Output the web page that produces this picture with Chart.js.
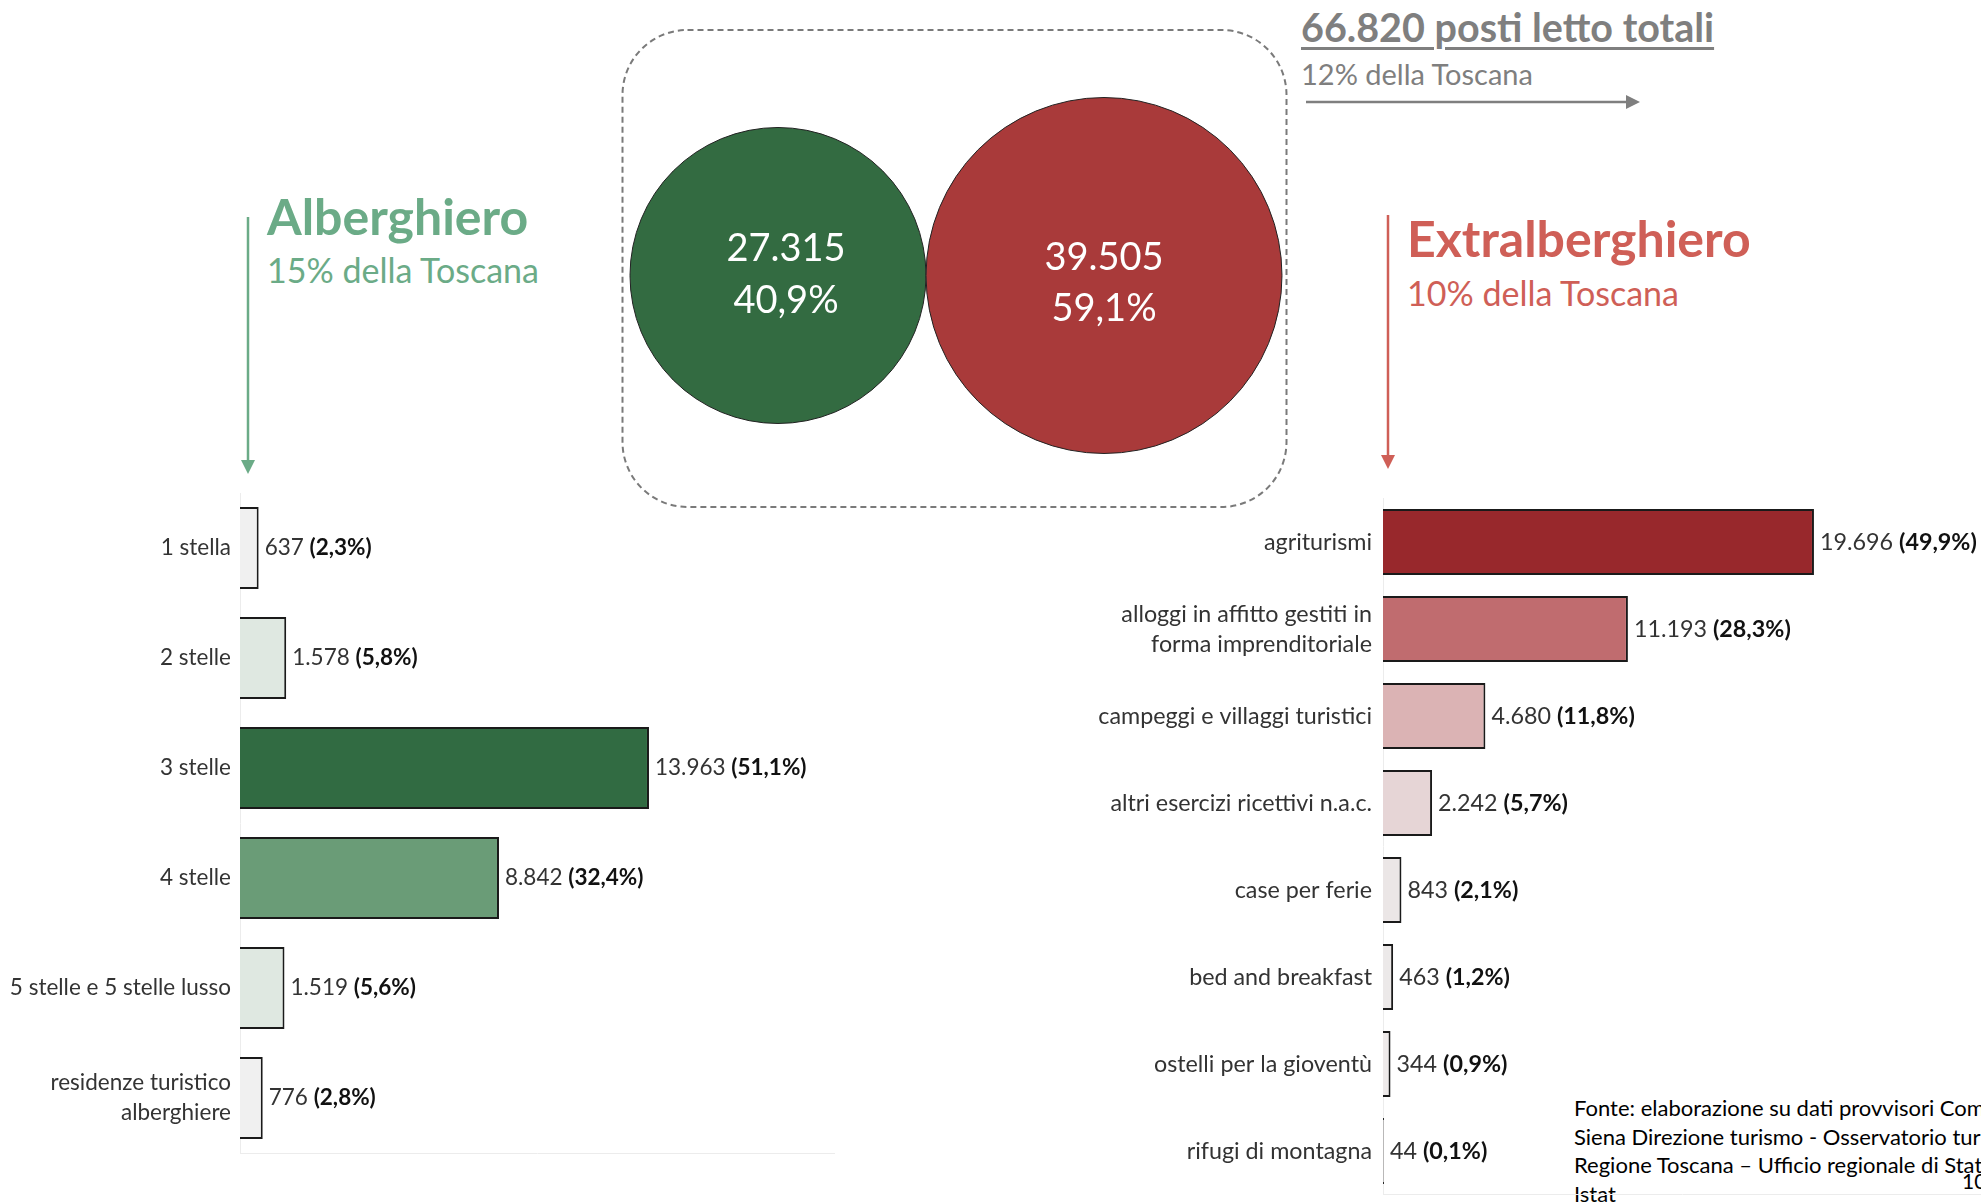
<!DOCTYPE html>
<html><head><meta charset="utf-8">
<script src="https://cdn.jsdelivr.net/npm/chart.js@4.4.0/dist/chart.umd.min.js"></script>
<style>
html,body{margin:0;padding:0;background:#fff;}
body{width:1981px;height:1204px;overflow:hidden;position:relative;font-family:Lato,'Open Sans',sans-serif;}
.t{position:absolute;white-space:nowrap;line-height:1;}
canvas{position:absolute;}
svg{position:absolute;left:0;top:0;}
</style></head><body>
<svg width="1981" height="1204">
 <rect x="622.5" y="30" width="664" height="477" rx="65" ry="65" fill="none" stroke="#7a7a7a" stroke-width="2" stroke-dasharray="6 4"/>
 <line x1="1306" y1="102" x2="1628" y2="102" stroke="#7f7f7f" stroke-width="2.5"/>
 <polygon points="1626,95 1640,102 1626,109" fill="#7f7f7f"/>
 <line x1="248" y1="217" x2="248" y2="462" stroke="#6bab87" stroke-width="2.5"/>
 <polygon points="241,460 255,460 248,474" fill="#6bab87"/>
 <line x1="1388" y1="215" x2="1388" y2="457" stroke="#cf5f57" stroke-width="2.5"/>
 <polygon points="1381,455 1395,455 1388,469" fill="#cf5f57"/>
</svg>

<div class="t" style="left:1301px;top:6.5px;font-size:39.5px;font-weight:700;color:#7f7f7f;text-decoration:underline;text-decoration-thickness:3px;text-underline-offset:5px;">66.820 posti letto totali</div>
<div class="t" style="left:1301px;top:59px;font-size:29px;color:#7f7f7f;">12% della Toscana</div>
<div class="t" style="left:267px;top:191px;font-size:50px;font-weight:700;color:#6bab87;">Alberghiero</div>
<div class="t" style="left:267px;top:253px;font-size:34px;color:#6bab87;">15% della Toscana</div>
<div class="t" style="left:1407px;top:213px;font-size:50px;font-weight:700;color:#cf5f57;">Extralberghiero</div>
<div class="t" style="left:1407px;top:276px;font-size:34px;color:#cf5f57;">10% della Toscana</div>
<div class="t" style="left:1962px;top:1170px;font-size:21px;color:#000;">10</div>
<div class="t" style="left:1574px;top:1094px;font-size:22px;line-height:28.5px;color:#000;">Fonte: elaborazione su dati provvisori Comune di<br>Siena Direzione turismo - Osservatorio turistico<br>Regione Toscana – Ufficio regionale di Statistica<br>Istat</div>

<canvas id="bub" width="1010" height="431" style="left:436px;top:60px;"></canvas>
<canvas id="left" width="860" height="764" style="left:0px;top:440px;"></canvas>
<canvas id="right" width="981" height="764" style="left:1000px;top:440px;"></canvas>

<script>
// ---- data ----
const groupNames = ['Alberghiero', 'Extralberghiero'];
const groupTotals = [27315, 39505];
const groupShares = ['40,9%', '59,1%'];

const hotelCategories = ['1 stella', '2 stelle', '3 stelle', '4 stelle', '5 stelle e 5 stelle lusso', ['residenze turistico', 'alberghiere']];
const hotelBeds = [637, 1578, 13963, 8842, 1519, 776];
const hotelShares = ['2,3%', '5,8%', '51,1%', '32,4%', '5,6%', '2,8%'];

const extraCategories = ['agriturismi', ['alloggi in affitto gestiti in', 'forma imprenditoriale'], 'campeggi e villaggi turistici', 'altri esercizi ricettivi n.a.c.', 'case per ferie', 'bed and breakfast', 'ostelli per la gioventù', 'rifugi di montagna'];
const extraBeds = [19696, 11193, 4680, 2242, 843, 463, 344, 44];
const extraShares = ['49,9%', '28,3%', '11,8%', '5,7%', '2,1%', '1,2%', '0,9%', '0,1%'];

// ---- styles ----
const hotelColors = ['#f0f0f0', '#dfe8e1', '#316b42', '#6a9c77', '#dfe8e1', '#f0f0f0'];
const extraColors = ['#98282c', '#c06c6f', '#dbb3b4', '#e6d5d6', '#ebe6e6', '#ece9e9', '#eeeaea', '#f0eeee'];
const groupColors = ['#336b41', '#a93a3a'];
const bubbleTextOffsets = [[-27, 25, 8], [-18, 33, 0]]; // line1 dy, line2 dy, dx
const FONT = 'Lato';

function fmt(v) { return String(v).replace(/\B(?=(\d{3})+(?!\d))/g, '.'); }

const valueLabels = {
  id: 'valueLabels',
  afterDatasetsDraw(chart, args, opts) {
    const ctx = chart.ctx;
    const meta = chart.getDatasetMeta(0);
    const data = chart.data.datasets[0].data;
    const fs = opts.size;
    ctx.save();
    ctx.textBaseline = 'middle';
    ctx.textAlign = 'left';
    meta.data.forEach((bar, i) => {
      const num = fmt(data[i]);
      const pct = '(' + opts.shares[i] + ')';
      let x = bar.x + 6;
      const y = bar.y;
      ctx.font = fs + 'px ' + FONT;
      ctx.fillStyle = '#333';
      ctx.fillText(num, x, y);
      x += ctx.measureText(num + ' ').width;
      ctx.font = 'bold ' + fs + 'px ' + FONT;
      ctx.fillStyle = '#111';
      ctx.fillText(pct, x, y);
    });
    ctx.restore();
  }
};

const bubbleLabels = {
  id: 'bubbleLabels',
  afterDatasetsDraw(chart) {
    const ctx = chart.ctx;
    const meta = chart.getDatasetMeta(0);
    ctx.save();
    ctx.textAlign = 'center';
    ctx.textBaseline = 'middle';
    ctx.fillStyle = '#ffffff';
    ctx.font = '38px ' + FONT;
    meta.data.forEach((pt, i) => {
      const o = bubbleTextOffsets[i];
      ctx.fillText(fmt(groupTotals[i]), pt.x + o[2], pt.y + o[0]);
      ctx.fillText(groupShares[i], pt.x + o[2], pt.y + o[1]);
    });
    ctx.restore();
  }
};

// bubble chart (area proportional to beds)
new Chart(document.getElementById('bub'), {
  type: 'bubble',
  data: {
    labels: groupNames,
    datasets: [{
      data: groupTotals.map((v, i) => ({ x: groupNames[i], y: 0, r: Math.sqrt(v) * 0.8955 })),
      backgroundColor: groupColors,
      borderColor: '#222',
      borderWidth: 1,
      hoverRadius: 0,
      clip: false
    }]
  },
  options: {
    responsive: false, animation: false,
    layout: { padding: 0 },
    plugins: { legend: { display: false }, tooltip: { enabled: false } },
    scales: {
      x: { type: 'category', offset: true, display: false },
      y: { min: -1, max: 1, display: false }
    }
  },
  plugins: [bubbleLabels]
});

function barChart(id, labels, values, colors, shares, xMax, axisWidth, tickPad, pad, catPct, fs) {
  return new Chart(document.getElementById(id), {
    type: 'bar',
    data: {
      labels: labels,
      datasets: [{
        data: values,
        backgroundColor: colors,
        borderColor: '#1a1a1a',
        borderWidth: 2,
        barPercentage: 1,
        categoryPercentage: catPct
      }]
    },
    options: {
      indexAxis: 'y',
      responsive: false, animation: false,
      layout: { padding: pad },
      plugins: { legend: { display: false }, tooltip: { enabled: false }, valueLabels: { shares: shares, size: fs } },
      scales: {
        y: {
          grid: { display: false, drawTicks: false },
          border: { display: true, color: '#ececec', width: 1 },
          ticks: { padding: tickPad, color: '#333', font: { family: FONT, size: fs, lineHeight: 30 / fs } },
          afterFit: s => { s.width = axisWidth; s.paddingTop = 0; s.paddingBottom = 0; }
        },
        x: {
          min: 0, max: xMax,
          grid: { display: false, drawTicks: false },
          border: { display: true, color: '#ececec', width: 1 },
          ticks: { display: false },
          afterFit: s => { s.height = 0; s.paddingLeft = 0; s.paddingRight = 0; }
        }
      }
    },
    plugins: [valueLabels]
  });
}

barChart('left', hotelCategories, hotelBeds, hotelColors, hotelShares, 20280, 240, 9,
  { top: 53, bottom: 51, left: 0, right: 26 }, 0.745, 22.5);
barChart('right', extraCategories, extraBeds, extraColors, extraShares, 27330, 383, 11,
  { top: 58.5, bottom: 9.5, left: 0, right: 0 }, 0.76, 23.3);
</script>
</body></html>
